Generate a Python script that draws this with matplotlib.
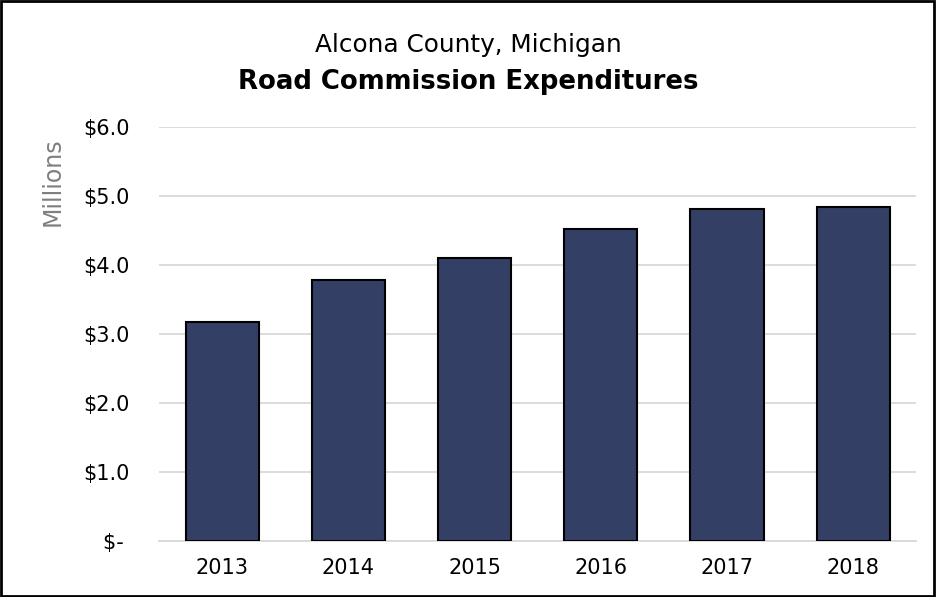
import matplotlib.pyplot as plt
from matplotlib.patches import Rectangle

# Alcona County road commission spending, in millions of dollars
years = ["2013", "2014", "2015", "2016", "2017", "2018"]
expenditures = [3.17, 3.79, 4.10, 4.52, 4.81, 4.84]
y_ticks = [0, 1, 2, 3, 4, 5, 6]
y_tick_labels = ["$- ", "$1.0", "$2.0", "$3.0", "$4.0", "$5.0", "$6.0"]

plt.rcParams['font.family'] = ['DejaVu Sans']

fig = plt.figure(figsize=(9.36, 5.97), dpi=100)
ax = fig.add_axes([0.170, 0.094, 0.809, 0.693])

ax.bar(years, expenditures, width=0.58, color="#343f66",
       edgecolor="black", linewidth=1.5, zorder=3)

ax.set_ylim(0, 6)
ax.set_xlim(-0.5, len(years) - 0.5)
ax.set_yticks(y_ticks)
ax.set_yticklabels(y_tick_labels)
ax.yaxis.grid(True, color="#d9d9d9", linewidth=1.3, zorder=0)
ax.tick_params(axis="both", length=0, labelsize=15, colors="black")
ax.tick_params(axis="y", pad=21)
ax.tick_params(axis="x", pad=12)
for side in ["top", "right", "left"]:
    ax.spines[side].set_visible(False)
ax.spines["bottom"].set_color("#d9d9d9")
ax.spines["bottom"].set_linewidth(1.3)

fig.text(0.056, 0.695, "Millions", rotation=90, color="#7f7f7f",
         fontsize=17, ha="center", va="center")

fig.text(0.5, 0.925, "Alcona County, Michigan", fontsize=17.8,
         ha="center", va="center")
fig.text(0.5, 0.862, "Road Commission Expenditures", fontsize=18.7,
         fontweight="bold", ha="center", va="center")

# thin black frame around the whole figure
fig.patches.append(Rectangle((0.001, 0.002), 0.997, 0.996, transform=fig.transFigure,
                             fill=False, edgecolor="black", linewidth=2))

plt.savefig("out.png", dpi=100)
plt.close()
